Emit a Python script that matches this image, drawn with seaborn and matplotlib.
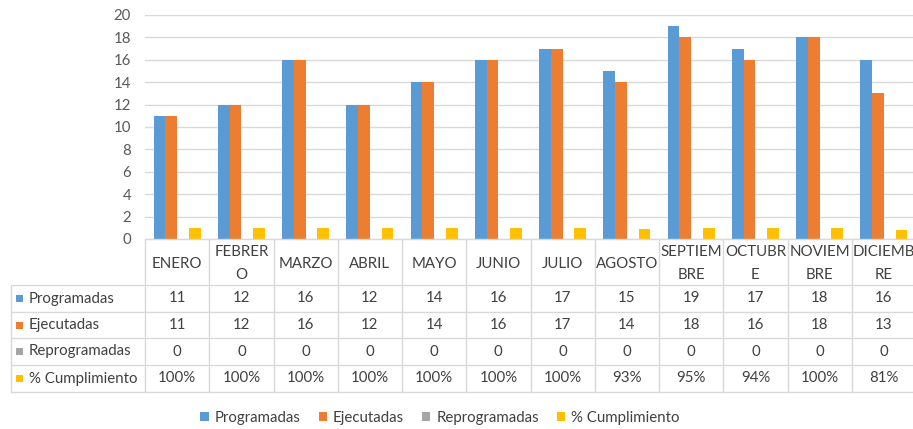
import matplotlib
matplotlib.use("Agg")
import matplotlib.pyplot as plt
import matplotlib.transforms as mtrans
from matplotlib.patches import Patch
from matplotlib.lines import Line2D
import seaborn as sns
import pandas as pd

# ---------------- data ----------------
months = ["ENERO", "FEBRERO", "MARZO", "ABRIL", "MAYO", "JUNIO", "JULIO",
          "AGOSTO", "SEPTIEMBRE", "OCTUBRE", "NOVIEMBRE", "DICIEMBRE"]
month_headers = ["ENERO", "FEBRER\nO", "MARZO", "ABRIL", "MAYO", "JUNIO", "JULIO",
                 "AGOSTO", "SEPTIEM\nBRE", "OCTUBR\nE", "NOVIEM\nBRE", "DICIEMB\nRE"]
series_names = ["Programadas", "Ejecutadas", "Reprogramadas", "% Cumplimiento"]
programadas = [11, 12, 16, 12, 14, 16, 17, 15, 19, 17, 18, 16]
ejecutadas = [11, 12, 16, 12, 14, 16, 17, 14, 18, 16, 18, 13]
reprogramadas = [0, 0, 0, 0, 0, 0, 0, 0, 0, 0, 0, 0]
cumplimiento = [1.00, 1.00, 1.00, 1.00, 1.00, 1.00, 1.00, 0.93, 0.95, 0.94, 1.00, 0.81]
colors = ["#5B9BD5", "#ED7D31", "#A5A5A5", "#FFC000"]
y_ticks = [0, 2, 4, 6, 8, 10, 12, 14, 16, 18, 20]

all_series = [programadas, ejecutadas, reprogramadas, cumplimiento]
rows = []
for name, vals in zip(series_names, all_series):
    for m, v in zip(months, vals):
        rows.append({"mes": m, "serie": name, "valor": v})
df = pd.DataFrame(rows)

# ---------------- figure ----------------
sns.set_theme(style="white")
plt.rcParams["font.family"] = ["Lato", "DejaVu Sans"]
W, H = 913, 429
fig = plt.figure(figsize=(W / 100, H / 100), dpi=100)
fig.patch.set_facecolor("white")

ax_left, ax_right, ax_top, ax_bot = 145, 916, 15, 239
ax = fig.add_axes([ax_left / W, 1 - ax_bot / H, (ax_right - ax_left) / W, (ax_bot - ax_top) / H])
ax.set_facecolor("none")

sns.barplot(data=df, x="mes", y="valor", hue="serie", order=months,
            hue_order=series_names, palette=colors, width=0.73,
            errorbar=None, legend=False, ax=ax, saturation=1, zorder=3,
            linewidth=0, edgecolor="none")

ax.set_xlim(-0.5, len(months) - 0.5)
ax.set_ylim(0, 20)
ax.set_yticks(y_ticks)
ax.set_yticklabels([str(t) for t in y_ticks], fontsize=10.8, color="#595959")
ax.tick_params(axis="y", length=0, pad=10)
ax.set_xticks([])
ax.set_xlabel("")
ax.set_ylabel("")
for s in ax.spines.values():
    s.set_visible(False)
ax.grid(axis="y", color="#D9D9D9", linewidth=1, zorder=0)
ax.set_axisbelow(True)

# ---------------- data table ----------------
line_c = "#D9D9D9"
txt_c = "#404040"
fs = 10.8
def fy(p):
    return 1 - p / H
def fx(p):
    return p / W

trans = mtrans.blended_transform_factory(ax.transData, fig.transFigure)
row_bounds = [239, 285, 312, 338, 365, 392]
label_left = 11

# horizontal lines
fig.add_artist(Line2D([ax_left / W, 1.01], [fy(239), fy(239)], color=line_c, lw=1))
for yb in row_bounds[1:]:
    fig.add_artist(Line2D([fx(label_left), 1.01], [fy(yb), fy(yb)], color=line_c, lw=1))
# vertical lines
n = len(months)
for i in range(n + 1):
    xb = i - 0.5
    fig.add_artist(Line2D([xb, xb], [fy(239), fy(392)], color=line_c, lw=1, transform=trans))
fig.add_artist(Line2D([fx(label_left), fx(label_left)], [fy(285), fy(392)], color=line_c, lw=1))

# headers
for i, h in enumerate(month_headers):
    fig.text(i, fy((239 + 285) / 2 + 1.5), h, transform=trans, ha="center", va="center",
             fontsize=fs, color=txt_c, linespacing=1.75)

# rows
fmt_vals = [
    [str(v) for v in programadas],
    [str(v) for v in ejecutadas],
    [str(v) for v in reprogramadas],
    [f"{round(v * 100)}%" for v in cumplimiento],
]
for r, (name, c, vals) in enumerate(zip(series_names, colors, fmt_vals)):
    yc = fy((row_bounds[r + 1] + row_bounds[r + 2]) / 2)
    fig.add_artist(plt.Rectangle((fx(16), yc - 3.5 / H), 7 / W, 7 / H,
                                 transform=fig.transFigure, color=c, lw=0))
    fig.text(fx(29), yc, name, ha="left", va="center", fontsize=fs, color=txt_c)
    for i, v in enumerate(vals):
        fig.text(i, yc, v, transform=trans, ha="center", va="center",
                 fontsize=fs, color=txt_c)

# ---------------- legend ----------------
handles = [Patch(facecolor=c, edgecolor="none", label=nm) for c, nm in zip(colors, series_names)]
fig.legend(handles=handles, loc="center", bbox_to_anchor=(fx(440), fy(418)), ncol=4,
           frameon=False, fontsize=fs, handlelength=0.55, handleheight=0.55,
           handletextpad=0.4, columnspacing=1.2, labelcolor=txt_c)

fig.savefig("out.png", dpi=100, facecolor="white")
